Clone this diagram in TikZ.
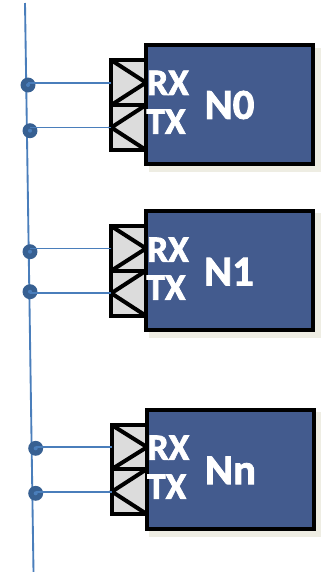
\documentclass[tikz,border=0pt]{standalone}
\usepackage{fontspec}
\newfontfamily\lblfont{Carlito}[BoldFont={Carlito Bold},BoldFeatures={FakeBold=2}]
\definecolor{nodeblue}{HTML}{435B8E}
\definecolor{shadowc}{HTML}{EEEDE3}
\definecolor{portgrey}{HTML}{DCDCDC}
\definecolor{wirec}{HTML}{4A7EBB}
\definecolor{dotc}{HTML}{376092}
\tikzset{
  rectbase/.style={rectangle,inner sep=0pt,outer sep=0pt},
  shadowbox/.style={rectbase,fill=shadowc},
  nodebox/.style={rectbase,draw=black,line width=3pt,fill=nodeblue},
  portbox/.style={rectbase,draw=black,line width=3pt,fill=portgrey},
  arrowmark/.style={draw=black,line width=3pt,miter limit=2},
  wire/.style={draw=wirec,line width=1.4pt},
  dotnode/.style={circle,fill=dotc,minimum size=11.2pt,inner sep=0pt,outer sep=0pt},
  dotcore/.style={circle,fill=wirec,minimum size=3pt,inner sep=0pt,outer sep=0pt},
  portlabel/.style={text=white,inner sep=0pt,font=\lblfont\fontsize{28pt}{31pt}\selectfont\bfseries},
  namelabel/.style={text=white,inner sep=0pt,font=\lblfont\fontsize{32pt}{34pt}\selectfont\bfseries}
}
% name, style, left, top, right, bottom (reference pixels)
\newcommand{\rectnode}[6]{%
  \pgfmathsetmacro{\rcx}{(#3+#5)/2}%
  \pgfmathsetmacro{\rcy}{(#4+#6)/2}%
  \node[#2,minimum width={(#5-(#3))*0.75pt},minimum height={(#6-(#4))*0.75pt}] (#1) at (\rcx,\rcy) {};%
}
\begin{document}
\begin{tikzpicture}[x=0.75pt,y=-0.75pt]
\useasboundingbox (0,0) rectangle (323,572);
% bus
\coordinate (bustop) at (25,3);
\coordinate (busbot) at (33.5,572);
\draw[wire] (bustop) -- (busbot);
% shadows
\rectnode{s0}{shadowbox}{149}{47.7}{320.7}{172}
\rectnode{s1}{shadowbox}{149}{213.3}{320.7}{338.3}
\rectnode{s2}{shadowbox}{149}{412.3}{321}{536.7}
% ports
\rectnode{rx0}{portbox}{111.3}{60.2}{146}{105}
\rectnode{tx0}{portbox}{111.3}{105}{146}{150}
\rectnode{rx1}{portbox}{111.3}{226.2}{146}{270.7}
\rectnode{tx1}{portbox}{111.3}{270.7}{146}{315.8}
\rectnode{rx2}{portbox}{112}{425.2}{147}{469}
\rectnode{tx2}{portbox}{112}{469}{147}{514.2}
% port arrows
\foreach \k in {0,1,2}{
  \draw[arrowmark] (rx\k.north west) -- (rx\k.east) -- (rx\k.south west);
  \draw[arrowmark] (tx\k.north east) -- (tx\k.west) -- (tx\k.south east);
}
% node boxes
\rectnode{n0}{nodebox}{145.8}{45.2}{312.8}{164.2}
\rectnode{n1}{nodebox}{145.8}{211.2}{312.8}{330.2}
\rectnode{n2}{nodebox}{146.8}{409.8}{313.5}{528.8}
% dots
\node[dotnode] (d0r) at (28,85) {};
\node[dotnode] (d0t) at (30,130.7) {};
\node[dotnode] (d1r) at (30,251.7) {};
\node[dotnode] (d1t) at (30,291.7) {};
\node[dotnode] (d2r) at (35.7,448.3) {};
\node[dotnode] (d2t) at (35.7,493.3) {};
% wires
\draw[wire] (rx0.west) -- (rx0.west -| d0r);
\draw[wire] (tx0.west) -- (tx0.west -| d0t);
\draw[wire] (rx1.west) -- (rx1.west -| d1r);
\draw[wire] (tx1.west) -- (tx1.west -| d1t);
\draw[wire] (rx2.west) -- (rx2.west -| d2r);
\draw[wire] (tx2.west) -- (tx2.west -| d2t);
\foreach \d in {d0r,d0t,d1r,d1t,d2r,d2t}{
  \node[dotcore] at (\d.center) {};
}
% labels
\node[portlabel] (lr0) at (168,82.8) {RX};
\node[portlabel] (lt0) at (166,121.7) {TX};
\node[namelabel] (ln0) at (229.5,105) {N0};
\node[portlabel] (lr1) at (168,249.7) {RX};
\node[portlabel] (lt1) at (166,287.7) {TX};
\node[namelabel] (ln1) at (229,271.7) {N1};
\node[portlabel] (lr2) at (168.5,447.7) {RX};
\node[portlabel] (lt2) at (166.7,486.7) {TX};
\node[namelabel] (ln2) at (230.5,470.3) {Nn};
\end{tikzpicture}
\end{document}
